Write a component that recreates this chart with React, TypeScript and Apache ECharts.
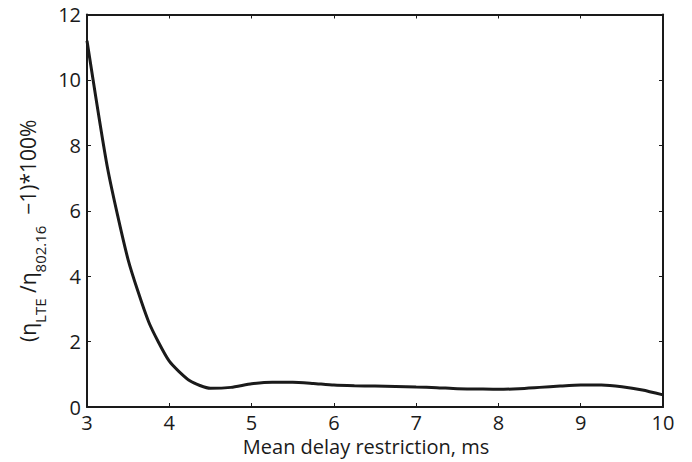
import React, { useEffect, useRef } from "react";
import * as echarts from "echarts";

const xValues = [3, 3.25, 3.5, 3.75, 4, 4.25, 4.5, 4.75, 5, 5.25, 5.5, 5.75, 6, 6.25, 6.5, 6.75, 7, 7.25, 7.5, 7.75, 8, 8.25, 8.5, 8.75, 9, 9.25, 9.5, 9.75, 10];
const yValues = [11.2, 7.3, 4.5, 2.6, 1.4, 0.8, 0.57, 0.6, 0.71, 0.76, 0.76, 0.72, 0.67, 0.65, 0.64, 0.63, 0.61, 0.59, 0.56, 0.55, 0.54, 0.56, 0.6, 0.64, 0.67, 0.67, 0.62, 0.52, 0.37];
const xTicks = [3, 4, 5, 6, 7, 8, 9, 10];
const yTicks = [0, 2, 4, 6, 8, 10, 12];

const FONT = "'Open Sans', 'DejaVu Sans', sans-serif";
const INK = "#1a1a1a";

export default function App() {
  const ref = useRef<HTMLDivElement>(null);
  useEffect(() => {
    if (!ref.current) return;
    const chart = echarts.init(ref.current, undefined, { renderer: "svg" });
    const axisCommon = {
      axisLine: { show: true, onZero: false, lineStyle: { color: INK, width: 2 } },
      axisTick: { show: true, inside: true, length: 4, lineStyle: { color: INK, width: 1 } },
      splitLine: { show: false },
    };
    chart.setOption({
      animation: false,
      grid: { left: 87, right: 29, top: 14.5, bottom: 55, containLabel: false },
      xAxis: [
        {
          type: "value",
          min: 3,
          max: 10,
          interval: 1,
          position: "bottom",
          ...axisCommon,
          axisLabel: { color: INK, fontSize: 20, fontFamily: FONT, margin: 5, formatter: (v: number) => (xTicks.includes(v) ? String(v) : "") },
          name: "Mean delay restriction, ms",
          nameLocation: "middle",
          nameGap: 28,
          nameTextStyle: { color: INK, fontSize: 20, fontFamily: FONT, padding: [0, 18, 0, 0] },
        },
        {
          type: "value",
          min: 3,
          max: 10,
          interval: 1,
          position: "top",
          ...axisCommon,
          axisLabel: { show: false },
        },
      ],
      yAxis: [
        {
          type: "value",
          min: 0,
          max: 12,
          interval: 2,
          position: "left",
          ...axisCommon,
          axisLabel: { color: INK, fontSize: 20, fontFamily: FONT, margin: 6, formatter: (v: number) => (yTicks.includes(v) ? String(v) : "") },
          name: "{m|(η}{s|LTE}{m| /η}{s|802.16}{m|  −1)*100%}",
          nameLocation: "middle",
          nameRotate: 90,
          nameGap: 38,
          nameTextStyle: {
            color: INK,
            fontFamily: FONT,
            fontSize: 21,
            padding: [0, 40, 0, 0],
            rich: {
              m: { fontSize: 21, fontFamily: FONT, color: INK, lineHeight: 30, verticalAlign: "top" },
              s: { fontSize: 15, fontFamily: FONT, color: INK, lineHeight: 30, verticalAlign: "bottom" },
            },
          },
        },
        {
          type: "value",
          min: 0,
          max: 12,
          interval: 2,
          position: "right",
          ...axisCommon,
          axisLabel: { show: false },
        },
      ],
      series: [
        {
          type: "line",
          xAxisIndex: 0,
          yAxisIndex: 0,
          data: xValues.map((x, i) => [x, yValues[i]]),
          showSymbol: false,
          symbol: "none",
          smooth: 0.2,
          lineStyle: { color: INK, width: 3 },
        },
      ],
    });
    return () => chart.dispose();
  }, []);
  return <div ref={ref} style={{ width: 692, height: 462, position: "absolute", left: 0, top: 0 }} />;
}
